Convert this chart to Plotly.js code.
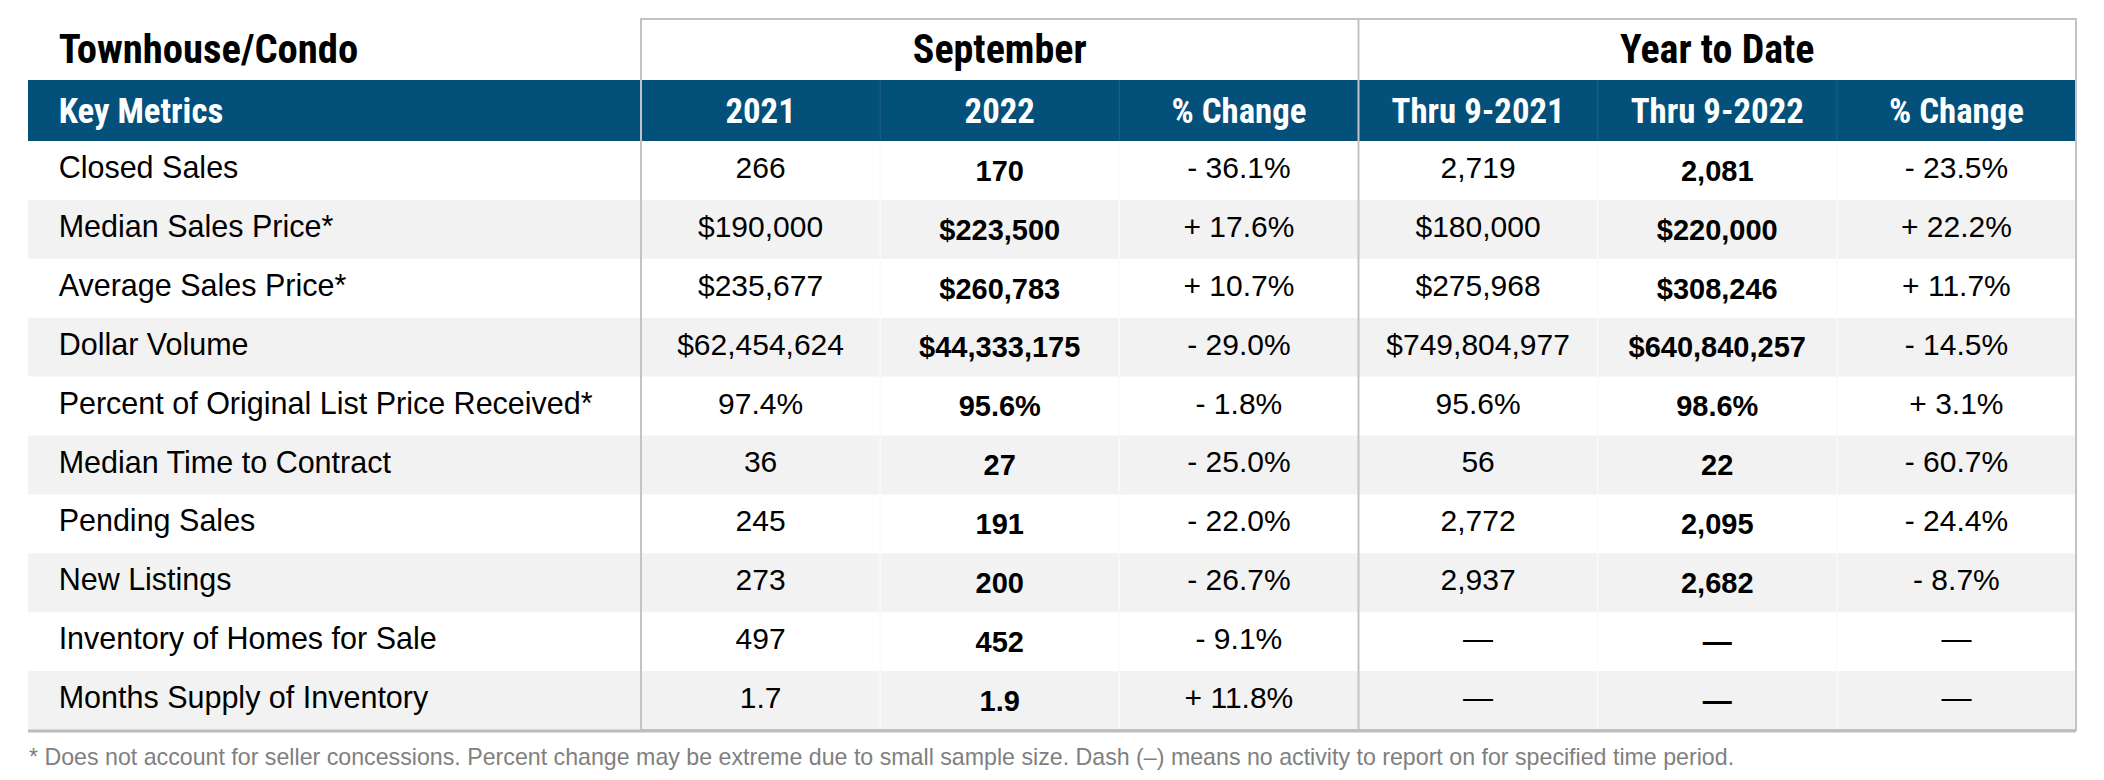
<!DOCTYPE html>
<html>
<head>
<meta charset="utf-8">
<script src="https://cdn.plot.ly/plotly-3.0.1.min.js"></script>
<style>html,body{margin:0;padding:0;background:#ffffff;}</style>
</head>
<body>
<div id="chart" style="width:2104px;height:780px;"></div>
<script>
// ---------------- data ----------------
const tableTitle = 'Townhouse/Condo';
const groupKeys = ['sep2022', 'ytd2022'];
const groupLabels = ['September', 'Year to Date'];
const columnKeys = ['sep2021', 'sep2022', 'sepChange', 'ytd2021', 'ytd2022', 'ytdChange'];
const columnLabels = ['2021', '2022', '% Change', 'Thru 9-2021', 'Thru 9-2022', '% Change'];
const metricsHeader = 'Key Metrics';
const metrics = [
  'Closed Sales',
  'Median Sales Price*',
  'Average Sales Price*',
  'Dollar Volume',
  'Percent of Original List Price Received*',
  'Median Time to Contract',
  'Pending Sales',
  'New Listings',
  'Inventory of Homes for Sale',
  'Months Supply of Inventory'
];
const metricFormats = ['int', 'usd', 'usd', 'usd', 'pct', 'int', 'int', 'int', 'int', 'dec'];
const sep2021 = [266, 190000, 235677, 62454624, 97.4, 36, 245, 273, 497, 1.7];
const sep2022 = [170, 223500, 260783, 44333175, 95.6, 27, 191, 200, 452, 1.9];
const sepChange = [-36.1, 17.6, 10.7, -29.0, -1.8, -25.0, -22.0, -26.7, -9.1, 11.8];
const ytd2021 = [2719, 180000, 275968, 749804977, 95.6, 56, 2772, 2937, null, null];
const ytd2022 = [2081, 220000, 308246, 640840257, 98.6, 22, 2095, 2682, null, null];
const ytdChange = [-23.5, 22.2, 11.7, -14.5, 3.1, -60.7, -24.4, -8.7, null, null];
const footnote = '* Does not account for seller concessions. Percent change may be extreme due to small sample size. Dash (\u2013) means no activity to report on for specified time period.';

// ---------------- formatting ----------------
const DASH = '\u2014';
function commas(n) { return String(Math.round(n)).replace(/\B(?=(\d{3})+(?!\d))/g, ','); }
function fmtValue(v, f) {
  if (v === null) return DASH;
  if (f === 'usd') return '$' + commas(v);
  if (f === 'pct') return v.toFixed(1) + '%';
  if (f === 'dec') return v.toFixed(1);
  return commas(v);
}
function fmtChange(v) {
  if (v === null) return DASH;
  return (v < 0 ? '- ' : '+ ') + Math.abs(v).toFixed(1) + '%';
}

// ---------------- geometry / style ----------------
const W = 2104, H = 780;
const px = x => x / W;
const py = y => 1 - y / H;
const G = {tableLeft: 28, boxLeft: 641, boxRight: 2076, boxTop: 19, bodyTop: 141, bodyBottom: 730, footY: 757};
const labelPad = 0.05;
const headShift = 3.5;   // px: condensed heading text sits slightly low in the reference
const boldShift = 3;     // px: bold values sit slightly low in the reference
const NARROW = 'Roboto Condensed, Liberation Sans Narrow, Arial Narrow, DejaVu Sans Condensed, sans-serif';
const SANS = 'Liberation Sans, Arial, Helvetica, sans-serif';
const BLUE = '#03507A';
const ROWGRAY = '#F2F2F2';
const BORDER = '#C3C3C3';

const ctx = document.createElement('canvas').getContext('2d');
function fitSize(text, family, targetWidth, maxSize) {
  ctx.font = 'bold 100px ' + family;
  const w = ctx.measureText(text).width;
  return Math.min(maxSize, Math.round(100 * targetWidth / w * 10) / 10);
}
const titleSize = fitSize(tableTitle, NARROW, 300, 44);
const groupSize = fitSize('September', NARROW, 174, 44);
const headSize = fitSize('Thru 9-2021', NARROW, 173, 38);

// ---------------- traces ----------------
const traces = [];
const common = {type: 'scatter', mode: 'text', hoverinfo: 'skip', cliponaxis: false, showlegend: false};

traces.push(Object.assign({}, common, {
  xaxis: 'x', yaxis: 'y4', x: [labelPad], y: ['group'], text: [tableTitle],
  textposition: 'middle right', textfont: {family: NARROW, size: titleSize, color: '#000000', weight: 'bold'}
}));
traces.push(Object.assign({}, common, {
  xaxis: 'x2', yaxis: 'y4', x: groupKeys, y: groupKeys.map(() => 'group'), text: groupLabels,
  textposition: 'middle center', textfont: {family: NARROW, size: groupSize, color: '#000000', weight: 'bold'}
}));
traces.push(Object.assign({}, common, {
  xaxis: 'x', yaxis: 'y4', x: [labelPad], y: ['header'], text: [metricsHeader],
  textposition: 'middle right', textfont: {family: NARROW, size: headSize, color: '#FFFFFF', weight: 'bold'}
}));
traces.push(Object.assign({}, common, {
  xaxis: 'x2', yaxis: 'y4', x: columnKeys, y: columnKeys.map(() => 'header'), text: columnLabels,
  textposition: 'middle center', textfont: {family: NARROW, size: headSize, color: '#FFFFFF', weight: 'bold'}
}));
traces.push(Object.assign({}, common, {
  xaxis: 'x', yaxis: 'y', x: metrics.map(() => labelPad), y: metrics, text: metrics,
  textposition: 'middle right', textfont: {family: SANS, size: 30.5, color: '#000000'}
}));
const columns = [
  {key: 'sep2021', vals: sep2021, change: false, bold: false},
  {key: 'sep2022', vals: sep2022, change: false, bold: true},
  {key: 'sepChange', vals: sepChange, change: true, bold: false},
  {key: 'ytd2021', vals: ytd2021, change: false, bold: false},
  {key: 'ytd2022', vals: ytd2022, change: false, bold: true},
  {key: 'ytdChange', vals: ytdChange, change: true, bold: false}
];
columns.forEach(c => {
  traces.push(Object.assign({}, common, {
    xaxis: 'x2', yaxis: c.bold ? 'y3' : 'y',
    x: metrics.map(() => c.key), y: metrics,
    text: c.vals.map((v, i) => c.change ? fmtChange(v) : fmtValue(v, metricFormats[i])),
    textposition: 'middle center',
    textfont: {family: SANS, size: c.bold ? 29 : 30, color: '#000000', weight: c.bold ? 'bold' : 'normal'}
  }));
});

// ---------------- shapes ----------------
const shapes = [];
metrics.forEach((m, i) => {
  if (i % 2 === 1) {
    shapes.push({type: 'rect', layer: 'below', xref: 'paper', yref: 'y', x0: px(G.tableLeft), x1: px(G.boxRight),
      y0: i - 0.5, y1: i + 0.5, fillcolor: ROWGRAY, line: {width: 0}});
  }
});
shapes.push({type: 'rect', layer: 'below', xref: 'paper', yref: 'y2', x0: px(G.tableLeft), x1: px(G.boxRight),
  y0: 0.5, y1: 1.5, fillcolor: BLUE, line: {width: 0}});
[0.5, 1.5, 3.5, 4.5].forEach(k => {
  shapes.push({type: 'line', layer: 'below', xref: 'x2', yref: 'y2', x0: k, x1: k, y0: 0.5, y1: 1.5,
    line: {color: '#215F86', width: 1}});
  shapes.push({type: 'line', layer: 'below', xref: 'x2', yref: 'paper', x0: k, x1: k, y0: py(G.bodyTop), y1: py(G.bodyBottom),
    line: {color: '#FAFAFA', width: 1.5}});
});
shapes.push({type: 'rect', layer: 'above', xref: 'paper', yref: 'paper', x0: px(G.boxLeft), x1: px(G.boxRight),
  y0: py(G.bodyBottom), y1: py(G.boxTop), fillcolor: 'rgba(0,0,0,0)', line: {color: BORDER, width: 2}});
shapes.push({type: 'line', layer: 'above', xref: 'x2', yref: 'paper', x0: 2.5, x1: 2.5, y0: py(G.bodyBottom), y1: py(G.boxTop),
  line: {color: BORDER, width: 2}});
shapes.push({type: 'line', layer: 'above', xref: 'paper', yref: 'paper', x0: px(G.tableLeft), x1: px(G.boxRight),
  y0: py(G.bodyBottom + 1), y1: py(G.bodyBottom + 1), line: {color: '#BDBDBD', width: 3}});

// ---------------- layout ----------------
const hidden = {visible: false, showgrid: false, zeroline: false, fixedrange: true};
const headRows = ['group', 'header'];
const layout = {
  width: W, height: H, autosize: false,
  margin: {l: 0, r: 0, t: 0, b: 0, pad: 0},
  paper_bgcolor: '#FFFFFF', plot_bgcolor: 'rgba(0,0,0,0)',
  showlegend: false,
  font: {family: SANS, color: '#000000'},
  xaxis: Object.assign({}, hidden, {domain: [px(G.tableLeft), px(G.boxLeft)], range: [0, 1], anchor: 'y'}),
  xaxis2: Object.assign({}, hidden, {domain: [px(G.boxLeft), px(G.boxRight)], type: 'category',
    categoryorder: 'array', categoryarray: columnKeys, range: [-0.5, columnKeys.length - 0.5], anchor: 'y'}),
  yaxis: Object.assign({}, hidden, {domain: [py(G.bodyBottom), py(G.bodyTop)], type: 'category',
    categoryorder: 'array', categoryarray: metrics, range: [metrics.length - 0.5, -0.5], anchor: 'x'}),
  yaxis2: Object.assign({}, hidden, {domain: [py(G.bodyTop), py(G.boxTop)], type: 'category',
    categoryorder: 'array', categoryarray: headRows, range: [1.5, -0.5], anchor: 'x'}),
  yaxis3: Object.assign({}, hidden, {domain: [py(G.bodyBottom + boldShift), py(G.bodyTop + boldShift)], type: 'category',
    categoryorder: 'array', categoryarray: metrics, range: [metrics.length - 0.5, -0.5], anchor: 'x2'}),
  yaxis4: Object.assign({}, hidden, {domain: [py(G.bodyTop + headShift), py(G.boxTop + headShift)], type: 'category',
    categoryorder: 'array', categoryarray: headRows, range: [1.5, -0.5], anchor: 'x'}),
  shapes: shapes,
  annotations: [{
    xref: 'paper', yref: 'paper', x: px(G.tableLeft), y: py(G.footY), xanchor: 'left', yanchor: 'middle',
    text: footnote, showarrow: false, font: {family: SANS, size: 23.2, color: '#808080'}, borderpad: 0
  }]
};

Plotly.newPlot('chart', traces, layout, {displayModeBar: false, staticPlot: true, responsive: false});
</script>
</body>
</html>
